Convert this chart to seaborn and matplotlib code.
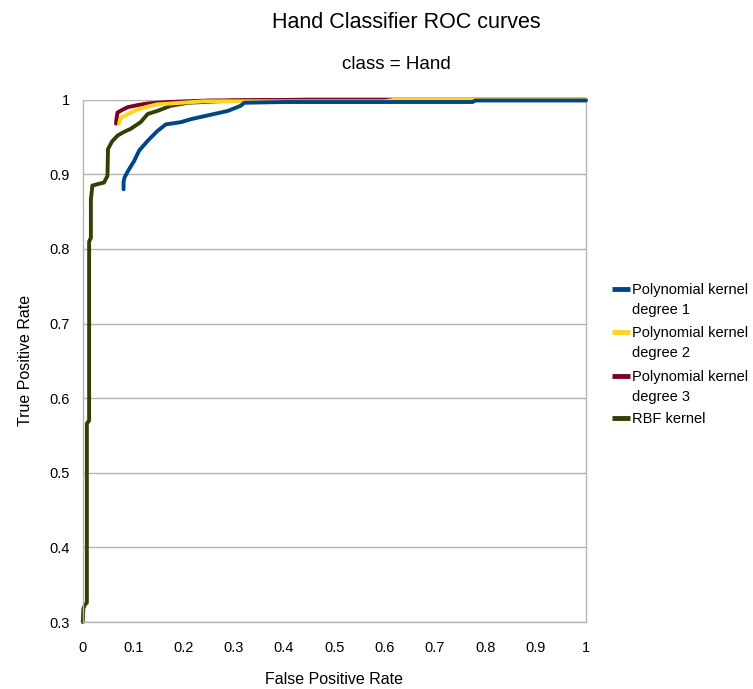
import pandas as pd
import seaborn as sns
import matplotlib.pyplot as plt
from matplotlib.lines import Line2D

# values (FPR, TPR)
poly1_fpr = [0.081, 0.081, 0.083, 0.092, 0.102, 0.112, 0.129, 0.148, 0.165, 0.195, 0.215,
             0.248, 0.288, 0.314, 0.321, 0.40, 0.53, 0.65, 0.775, 0.78, 1.0]
poly1_tpr = [0.880, 0.890, 0.896, 0.907, 0.918, 0.932, 0.945, 0.958, 0.967, 0.970, 0.974,
             0.979, 0.985, 0.992, 0.996, 0.997, 0.997, 0.997, 0.997, 0.999, 0.999]

poly2_fpr = [0.072, 0.074, 0.076, 0.090, 0.109, 0.130, 0.148, 0.175, 0.241, 0.40, 0.60, 0.62, 0.775, 1.0]
poly2_tpr = [0.968, 0.973, 0.976, 0.981, 0.987, 0.991, 0.994, 0.995, 0.998, 0.998, 0.998, 1.0, 1.0, 1.0]

poly3_fpr = [0.066, 0.067, 0.069, 0.080, 0.089, 0.110, 0.129, 0.170, 0.25, 0.44, 0.62, 1.0]
poly3_tpr = [0.968, 0.975, 0.983, 0.987, 0.990, 0.993, 0.995, 0.997, 0.999, 1.0, 1.0, 1.0]

rbf_fpr = [0.0, 0.001, 0.004, 0.008, 0.008, 0.0125, 0.0125, 0.016, 0.016, 0.019, 0.030, 0.042,
           0.049, 0.050, 0.058, 0.069, 0.082, 0.095, 0.115, 0.129, 0.148, 0.175, 0.21, 0.30,
           0.45, 1.0]
rbf_tpr = [0.300, 0.318, 0.323, 0.326, 0.566, 0.570, 0.810, 0.815, 0.866, 0.885, 0.887, 0.889,
           0.898, 0.934, 0.944, 0.952, 0.957, 0.961, 0.970, 0.981, 0.985, 0.992, 0.996, 0.999,
           1.0, 1.0]

names = ['Polynomial kernel\ndegree 1', 'Polynomial kernel\ndegree 2',
         'Polynomial kernel\ndegree 3', 'RBF kernel']
colors = ['#004586', '#ffd320', '#7e0021', '#314004']


def main():
    series = [(poly1_fpr, poly1_tpr), (poly2_fpr, poly2_tpr),
              (poly3_fpr, poly3_tpr), (rbf_fpr, rbf_tpr)]

    sns.set_style('white')
    plt.rcParams['font.family'] = ['Liberation Sans', 'DejaVu Sans']
    plt.rcParams['text.color'] = 'black'
    plt.rcParams['axes.labelcolor'] = 'black'

    fig = plt.figure(figsize=(7.53, 6.89), dpi=100)
    ax = fig.add_axes([0.110, 0.0972, 0.668, 0.758])

    # draw RBF first, degree 1 last (on top), as in the reference
    zorders = [5, 4, 3, 2]
    for name, color, (xs, ys), z in zip(names, colors, series, zorders):
        df = pd.DataFrame({'FPR': xs, 'TPR': ys})
        sns.lineplot(data=df, x='FPR', y='TPR', sort=False, estimator=None,
                     color=color, linewidth=2.8, ax=ax, zorder=z, clip_on=False)

    ax.set_xlim(0, 1)
    ax.set_ylim(0.3, 1)
    ax.set_xticks([i / 10 for i in range(11)])
    ax.set_xticklabels(['0', '0.1', '0.2', '0.3', '0.4', '0.5', '0.6', '0.7', '0.8', '0.9', '1'])
    ax.set_yticks([0.3 + i / 10 for i in range(8)])
    ax.set_yticklabels(['0.3', '0.4', '0.5', '0.6', '0.7', '0.8', '0.9', '1'])
    ax.tick_params(axis='both', labelsize=10.5, colors='#b3b3b3', labelcolor='black',
                   length=6, width=1, direction='out')
    ax.tick_params(axis='x', pad=8)
    ax.yaxis.grid(True, color='#b3b3b3', linewidth=1)
    ax.set_axisbelow(True)
    for side in ['left', 'bottom', 'right']:
        ax.spines[side].set_color('#b3b3b3')
        ax.spines[side].set_linewidth(1)
    ax.spines['top'].set_visible(False)

    ax.set_xlabel('False Positive Rate', fontsize=11.5, labelpad=12)
    ax.set_ylabel('True Positive Rate', fontsize=11.5, labelpad=12)

    fig.text(0.539, 0.968, 'Hand Classifier ROC curves', ha='center', va='center', fontsize=15.5)
    fig.text(0.527, 0.907, 'class = Hand', ha='center', va='center', fontsize=13.5)

    # legend: colour bar beside the first line of each label
    W, H = 753, 689
    legend_y = [289, 332, 376, 418]
    for name, color, yp in zip(names, colors, legend_y):
        fy = 1 - yp / H
        fig.add_artist(Line2D([612 / W, 630 / W], [fy, fy], color=color, linewidth=3.5,
                              solid_capstyle='butt', transform=fig.transFigure))
        fig.text(632 / W, 1 - (yp - 6) / H, name, ha='left', va='top', fontsize=10.5,
                 linespacing=1.55)

    fig.savefig('out.png', dpi=100)
    plt.close(fig)


if __name__ == '__main__':
    main()
